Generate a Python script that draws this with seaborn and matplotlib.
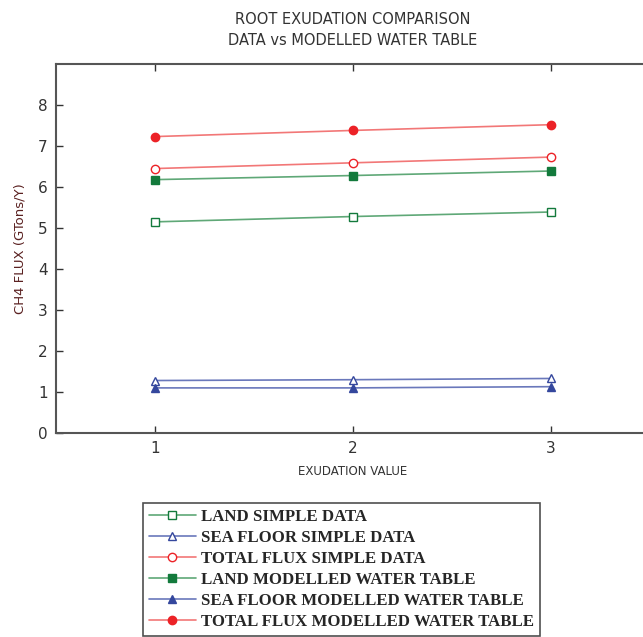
import numpy as np
import pandas as pd
import matplotlib
matplotlib.use("Agg")
import matplotlib.pyplot as plt
import seaborn as sns

sns.set_style("ticks")

# data
exudation = [1, 2, 3]
land_simple = [5.15, 5.28, 5.39]
sea_simple = [1.28, 1.30, 1.33]
total_simple = [6.45, 6.59, 6.73]
land_model = [6.18, 6.28, 6.39]
sea_model = [1.10, 1.10, 1.13]
total_model = [7.23, 7.38, 7.52]

labels = ["LAND SIMPLE DATA", "SEA FLOOR SIMPLE DATA", "TOTAL FLUX SIMPLE DATA",
          "LAND MODELLED WATER TABLE", "SEA FLOOR MODELLED WATER TABLE",
          "TOTAL FLUX MODELLED WATER TABLE"]
series = [land_simple, sea_simple, total_simple, land_model, sea_model, total_model]

green_line, green_mk = "#5fa877", "#137a3c"
blue_line, blue_mk = "#6a78bb", "#34479d"
red_line, red_mk = "#f27777", "#ec2227"
styles = [
    (green_line, green_mk, "s", False),
    (blue_line, blue_mk, "^", False),
    (red_line, red_mk, "o", False),
    (green_line, green_mk, "s", True),
    (blue_line, blue_mk, "^", True),
    (red_line, red_mk, "o", True),
]

fig = plt.figure(figsize=(6.43, 6.37), dpi=100)
# axes runs past the right edge like the original (right spine is clipped)
ax = fig.add_axes([56 / 643, 1 - 433 / 637, 594 / 643, 369 / 637])

for lab, vals, (lc, mc, mk, filled) in zip(labels, series, styles):
    df = pd.DataFrame({"x": exudation, "y": vals})
    sns.lineplot(data=df, x="x", y="y", ax=ax, color=lc, lw=1.2,
                 marker=mk, markersize=7 if filled else 6.5,
                 markerfacecolor=mc if filled else "white",
                 markeredgecolor=mc, markeredgewidth=1.0, label=lab)

ax.set_xlim(0.5, 3.5)
ax.set_ylim(0, 9)
ax.set_xticks([1, 2, 3])
ax.set_yticks(range(0, 9))
ax.tick_params(direction="in", length=5, width=1, colors="#333333",
               labelsize=11, top=True, pad=6)
for s in ax.spines.values():
    s.set_color("#555555")
    s.set_linewidth(1.5)

ax.set_xlabel("EXUDATION VALUE", fontsize=8.5, color="#333333", labelpad=6)
ax.set_ylabel("CH4 FLUX (GTons/Y)", fontsize=9.5, color="#5a2020", labelpad=8)
ax.set_title("ROOT EXUDATION COMPARISON\nDATA vs MODELLED WATER TABLE",
             fontsize=10.5, color="#333333", pad=14, linespacing=1.5)

handles, labs = ax.get_legend_handles_labels()
ax.get_legend().remove()
for h in handles:
    h.set_markersize(6)
leg = fig.legend(handles, labs, loc="upper left",
                 bbox_to_anchor=(143 / 643, 1 - 503 / 637),
                 prop={"family": "Liberation Serif", "weight": "bold", "size": 12.1},
                 frameon=True, fancybox=False, handlelength=2.8,
                 handletextpad=0.3, labelspacing=0.3, borderpad=0.35,
                 borderaxespad=0)
leg.get_frame().set_edgecolor("#222222")
leg.get_frame().set_linewidth(1.2)

fig.savefig("out.png", dpi=100)
